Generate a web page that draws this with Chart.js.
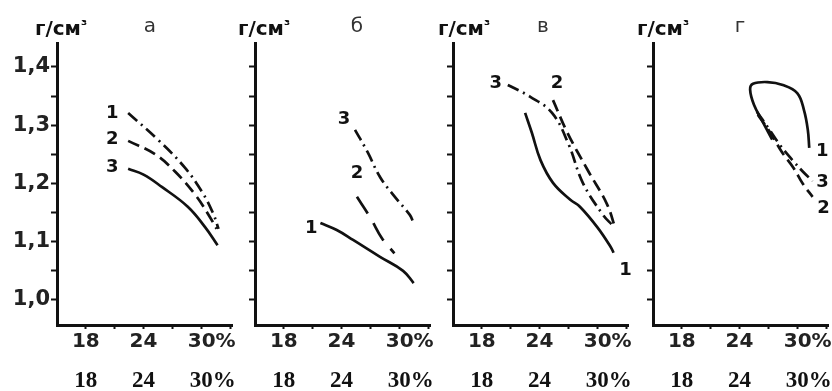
<!DOCTYPE html>
<html>
<head>
<meta charset="utf-8">
<script src="https://cdn.jsdelivr.net/npm/chart.js"></script>
<style>
  html, body { margin: 0; padding: 0; background: #fff; width: 832px; height: 391px; overflow: hidden; }
  canvas { position: absolute; top: 0; }
</style>
</head>
<body>
<canvas id="panelA" width="272" height="391" style="left:0px"></canvas>
<canvas id="panelB" width="272" height="391" style="left:198px"></canvas>
<canvas id="panelV" width="272" height="391" style="left:396px"></canvas>
<canvas id="panelG" width="272" height="391" style="left:596px"></canvas>
<script>
// axes
const xTicks = [18, 21, 24, 27, 30, 33];
const xTickLabels = ["18", "", "24", "", "30%", ""];
const yTicks = [1.0, 1.05, 1.1, 1.15, 1.2, 1.25, 1.3, 1.35, 1.4];
const yTickLabels = ["1,0", "", "1,1", "", "1,2", "", "1,3", "", "1,4"];
const unit = "г/см";
const panelLetters = ["а", "б", "в", "г"];

// panel а
const a1x = [22.4, 25.5, 28.3, 30.1, 31.2, 31.8];
const a1y = [1.321, 1.275, 1.227, 1.185, 1.150, 1.122];
const a2x = [22.4, 25.2, 27.3, 29.4, 30.8, 31.6];
const a2y = [1.273, 1.250, 1.220, 1.180, 1.145, 1.122];
const a3x = [22.4, 24.0, 25.9, 28.6, 30.4, 31.7];
const a3y = [1.225, 1.215, 1.194, 1.160, 1.125, 1.094];

// panel б
const b1x = [21.8, 23.5, 25.2, 28.0, 30.4, 31.5];
const b1y = [1.132, 1.120, 1.103, 1.074, 1.050, 1.029];
const b2x = [25.6, 27.0, 28.2, 29.5];
const b2y = [1.177, 1.141, 1.106, 1.080];
const b3x = [25.4, 26.7, 28.0, 29.4, 31.1, 31.45];
const b3y = [1.292, 1.254, 1.211, 1.180, 1.146, 1.134];

// panel в
const v1x = [22.5, 23.2, 24.1, 25.4, 27.2, 28.2, 30.0, 31.4, 31.7];
const v1y = [1.321, 1.287, 1.240, 1.201, 1.172, 1.160, 1.125, 1.091, 1.081];
const v2x = [25.4, 26.9, 29.0, 31.0, 31.9];
const v2y = [1.343, 1.287, 1.223, 1.165, 1.122];
const v3x = [20.7, 23.0, 25.3, 27.0, 28.5, 30.6, 31.6];
const v3y = [1.369, 1.349, 1.321, 1.268, 1.201, 1.146, 1.128];

// panel г
const g1x = [27.4, 26.4, 25.5, 25.1, 25.4, 26.9, 28.5, 30.0, 30.7, 31.1, 31.25];
const g1y = [1.275, 1.306, 1.335, 1.361, 1.371, 1.374, 1.369, 1.355, 1.326, 1.292, 1.261];
const g2x = [25.9, 27.2, 28.4, 29.6, 30.6, 31.6];
const g2y = [1.318, 1.287, 1.254, 1.227, 1.199, 1.177];
const g3x = [25.8, 27.0, 28.2, 29.5, 30.6, 31.6];
const g3y = [1.323, 1.295, 1.266, 1.240, 1.220, 1.204];

const SOLID = [];
const DASH = [12, 6];
const LONGDASH = [20, 11];
const DASHDOT = [12, 5, 2, 5];

function curve(xs, ys, dash, tag, tagAt, dx, dy) {
  return {
    data: xs.map((x, i) => ({ x: x, y: ys[i] })),
    borderDash: dash,
    tag: tag, tagAt: tagAt, tagDx: dx, tagDy: dy
  };
}

// unit, panel letter and curve numbers
const panelDecor = {
  id: "panelDecor",
  afterDraw(chart, args, opts) {
    const ctx = chart.ctx;
    const left = chart.chartArea.left;
    ctx.save();
    ctx.fillStyle = "#111";
    ctx.textBaseline = "alphabetic";
    ctx.textAlign = "left";
    ctx.font = "bold 20px 'DejaVu Sans'";
    const ux = left + opts.unitDx;
    ctx.fillText(unit, ux, 35);
    const w = ctx.measureText(unit).width;
    ctx.font = "bold 14px 'DejaVu Sans'";
    ctx.fillText("³", ux + w, 30);

    ctx.font = "20px 'DejaVu Sans'";
    ctx.textAlign = "center";
    ctx.fillStyle = "#333";
    ctx.fillText(opts.letter, left + opts.letterDx, 32);

    ctx.font = "bold 18px 'DejaVu Sans'";
    ctx.fillStyle = "#111";
    ctx.textBaseline = "middle";
    chart.data.datasets.forEach((ds, i) => {
      const pts = chart.getDatasetMeta(i).data;
      const p = ds.tagAt === "end" ? pts[pts.length - 1] : pts[0];
      ctx.fillText(ds.tag, p.x + ds.tagDx, p.y + ds.tagDy);
    });
    ctx.restore();
  }
};

function sansLabel(v) {
  const t = xTickLabels[xTicks.indexOf(v)] || "";
  return t.endsWith("%") ? "   " + t : t;
}
function serifLabel(v) {
  const t = xTickLabels[xTicks.indexOf(v)] || "";
  return t.endsWith("%") ? "    " + t : t;
}

function makePanel(id, datasets, showY, decor) {
  new Chart(document.getElementById(id), {
    type: "line",
    data: { datasets: datasets },
    options: {
      responsive: false,
      animation: false,
      layout: { padding: { top: 43, right: 40, left: 0, bottom: 0 } },
      elements: {
        point: { radius: 0 },
        line: { borderWidth: 2.7, borderColor: "#111", tension: 0.4, fill: false }
      },
      plugins: {
        legend: { display: false },
        tooltip: { enabled: false },
        panelDecor: decor
      },
      scales: {
        x: {
          type: "linear", position: "bottom", min: 15, max: 33.2, weight: 0,
          afterBuildTicks: s => { s.ticks = xTicks.map(v => ({ value: v })); },
          afterFit: s => { s.height = 29; },
          border: { color: "#111", width: 3 },
          grid: { drawOnChartArea: false, tickLength: 4, tickWidth: 2, tickColor: "#111" },
          ticks: {
            padding: 1, color: "#222", autoSkip: false, maxRotation: 0,
            font: { family: "DejaVu Sans", weight: "bold", size: 20 },
            callback: sansLabel
          }
        },
        x2: {
          type: "linear", position: "bottom", min: 15, max: 33.2, weight: 1,
          afterBuildTicks: s => { s.ticks = xTicks.map(v => ({ value: v })); },
          afterFit: s => { s.height = 37; },
          border: { display: false },
          grid: { display: false, drawTicks: false },
          ticks: {
            padding: 13, color: "#111", autoSkip: false, maxRotation: 0,
            font: { family: "Liberation Serif", weight: "bold", size: 23 },
            callback: serifLabel
          }
        },
        y: {
          type: "linear", min: 0.957, max: 1.441,
          afterBuildTicks: s => { s.ticks = yTicks.map(v => ({ value: v })); },
          afterFit: s => { s.width = 57; },
          border: { color: "#111", width: 3 },
          grid: { drawOnChartArea: false, tickLength: 6, tickWidth: 2, tickColor: "#111" },
          ticks: {
            display: showY, padding: 1, color: "#222",
            font: { family: "DejaVu Sans", weight: "bold", size: 21 },
            callback: v => yTickLabels[yTicks.indexOf(v)] || ""
          }
        }
      }
    },
    plugins: [panelDecor]
  });
}

makePanel("panelA", [
  curve(a1x, a1y, DASHDOT, "1", "start", -16, 0),
  curve(a2x, a2y, DASH, "2", "start", -16, -2),
  curve(a3x, a3y, SOLID, "3", "start", -16, -2)
], true, { letter: panelLetters[0], unitDx: -22, letterDx: 93 });

makePanel("panelB", [
  curve(b1x, b1y, SOLID, "1", "start", -9, 5),
  curve(b2x, b2y, LONGDASH, "2", "start", 0, -23),
  curve(b3x, b3y, DASHDOT, "3", "start", -11, -10)
], false, { letter: panelLetters[1], unitDx: -17, letterDx: 102 });

makePanel("panelV", [
  curve(v1x, v1y, SOLID, "1", "end", 12, 18),
  curve(v2x, v2y, DASH, "2", "start", 4, -17),
  curve(v3x, v3y, DASHDOT, "3", "start", -12, -2)
], false, { letter: panelLetters[2], unitDx: -15, letterDx: 90 });

makePanel("panelG", [
  curve(g1x, g1y, SOLID, "1", "end", 13, 3),
  curve(g2x, g2y, DASH, "2", "end", 11, 12),
  curve(g3x, g3y, DASHDOT, "3", "end", 10, 1)
], false, { letter: panelLetters[3], unitDx: -16, letterDx: 87 });
</script>
</body>
</html>
